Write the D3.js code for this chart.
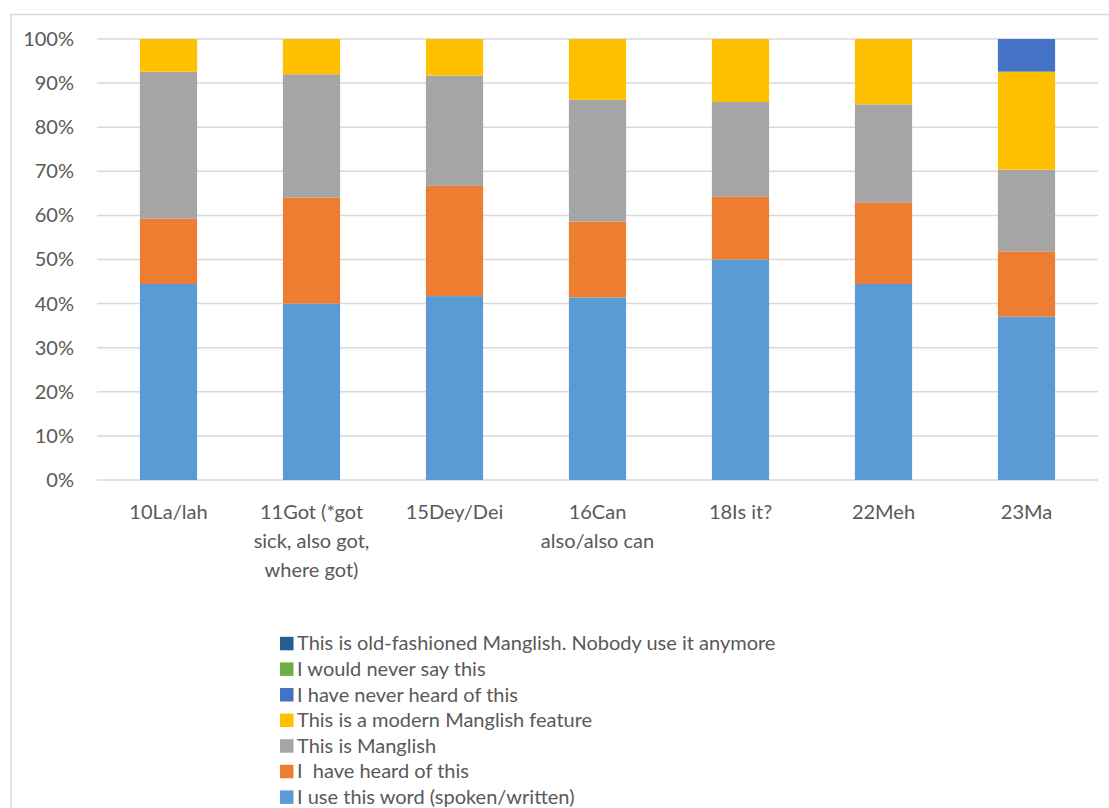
<!DOCTYPE html>
<html>
<head>
<meta charset="utf-8">
<script src="https://cdn.jsdelivr.net/npm/d3@7"></script>
<style>
  html, body { margin: 0; padding: 0; background: #fff; }
  svg { display: block; }
  text { font-family: Lato, "Open Sans", sans-serif; fill: #595959; }
</style>
</head>
<body>
<svg id="chart" width="1109" height="808"></svg>
<script>
// Survey responses per Manglish feature, share of respondents (%)
const categories = [
  "10La/lah",
  "11Got (*got sick, also got, where got)",
  "15Dey/Dei",
  "16Can also/also can",
  "18Is it?",
  "22Meh",
  "23Ma"
];

const useWord      = [44.4, 40.0, 41.7, 41.4, 50.0, 44.4, 37.0];
const heardOf      = [14.8, 24.0, 25.0, 17.2, 14.3, 18.5, 14.8];
const isManglish   = [33.3, 28.0, 25.0, 27.6, 21.4, 22.2, 18.5];
const modernFeat   = [ 7.4,  8.0,  8.3, 13.8, 14.3, 14.8, 22.2];
const neverHeard   = [ 0,    0,    0,    0,    0,    0,    7.4];
const neverSay     = [ 0,    0,    0,    0,    0,    0,    0  ];
const oldFashioned = [ 0,    0,    0,    0,    0,    0,    0  ];

const seriesNames = [
  "I use this word (spoken/written)",
  "I  have heard of this",
  "This is Manglish",
  "This is a modern Manglish feature",
  "I have never heard of this",
  "I would never say this",
  "This is old-fashioned Manglish. Nobody use it anymore"
];
const seriesValues = [useWord, heardOf, isManglish, modernFeat, neverHeard, neverSay, oldFashioned];
const seriesColors = ["#5B9BD5", "#ED7D31", "#A5A5A5", "#FFC000", "#4472C4", "#70AD47", "#255E91"];

const yTicks = [0, 0.1, 0.2, 0.3, 0.4, 0.5, 0.6, 0.7, 0.8, 0.9, 1.0];

const FONT_SIZE = 20;

const rows = categories.map((c, i) => {
  const r = { category: c };
  seriesNames.forEach((s, k) => { r[s] = seriesValues[k][i]; });
  return r;
});

const stacked = d3.stack()
  .keys(seriesNames)
  .offset(d3.stackOffsetExpand)(rows);

const svg = d3.select("#chart");

// chart area frame
svg.append("rect")
  .attr("x", 11).attr("y", 14.5)
  .attr("width", 1120).attr("height", 820)
  .attr("fill", "none")
  .attr("stroke", "#d9d9d9")
  .attr("stroke-width", 1.5);

const plot = { left: 97, right: 1098, top: 39, bottom: 480 };

const x = d3.scaleBand()
  .domain(categories)
  .range([plot.left, plot.right])
  .paddingInner(0.6)
  .paddingOuter(0.3);

const y = d3.scaleLinear()
  .domain([0, 1])
  .range([plot.bottom, plot.top]);

// gridlines
svg.append("g")
  .selectAll("line")
  .data(yTicks)
  .join("line")
  .attr("x1", plot.left).attr("x2", plot.right)
  .attr("y1", d => y(d)).attr("y2", d => y(d))
  .attr("stroke", "#d9d9d9")
  .attr("stroke-width", 1.5);

// y axis labels
const yAxis = d3.axisLeft(y)
  .tickValues(yTicks)
  .tickFormat(d3.format(".0%"))
  .tickSize(0)
  .tickPadding(0);

svg.append("g")
  .attr("transform", `translate(${plot.left - 23},0)`)
  .call(yAxis)
  .call(g => g.select(".domain").remove())
  .call(g => g.selectAll("text")
    .attr("font-size", FONT_SIZE)
    .attr("font-family", null)
    .attr("fill", "#595959"));

// stacked bars
svg.append("g")
  .selectAll("g")
  .data(stacked)
  .join("g")
  .attr("fill", (d, i) => seriesColors[i])
  .selectAll("rect")
  .data(d => d)
  .join("rect")
  .attr("x", d => x(d.data.category))
  .attr("width", x.bandwidth())
  .attr("y", d => y(d[1]))
  .attr("height", d => y(d[0]) - y(d[1]));

// category axis with wrapped labels
const xAxis = d3.axisBottom(x).tickSize(0).tickPadding(0);
const xg = svg.append("g")
  .attr("transform", `translate(0,${plot.bottom})`)
  .call(xAxis)
  .call(g => g.select(".domain").remove());

xg.selectAll("text")
  .attr("font-size", FONT_SIZE)
  .attr("font-family", null)
  .attr("fill", "#595959")
  .attr("y", 0)
  .attr("dy", null)
  .each(function(d) { wrap(d3.select(this), d, 134); });

function wrap(text, label, width) {
  const words = label.split(/\s+/);
  text.text(null);
  let line = [];
  let lineNo = 0;
  let tspan = text.append("tspan").attr("x", 0).attr("y", 39);
  words.forEach(w => {
    line.push(w);
    tspan.text(line.join(" "));
    if (tspan.node().getComputedTextLength() > width && line.length > 1) {
      line.pop();
      tspan.text(line.join(" "));
      line = [w];
      lineNo += 1;
      tspan = text.append("tspan")
        .attr("x", 0)
        .attr("y", 39 + lineNo * 29)
        .text(w);
    }
  });
}

// legend, top entry is the last series
const legendOrder = seriesNames.map((s, i) => i).reverse();
const legend = svg.append("g")
  .selectAll("g")
  .data(legendOrder)
  .join("g")
  .attr("transform", (d, i) => `translate(280,${643.3 + i * 25.6})`);

legend.append("rect")
  .attr("x", 0).attr("y", -6.5)
  .attr("width", 13.5).attr("height", 13.5)
  .attr("fill", d => seriesColors[d]);

legend.append("text")
  .attr("x", 17)
  .attr("y", 0)
  .attr("dy", "0.35em")
  .attr("font-size", FONT_SIZE)
  .style("white-space", "pre")
  .text(d => seriesNames[d]);
</script>
</body>
</html>
